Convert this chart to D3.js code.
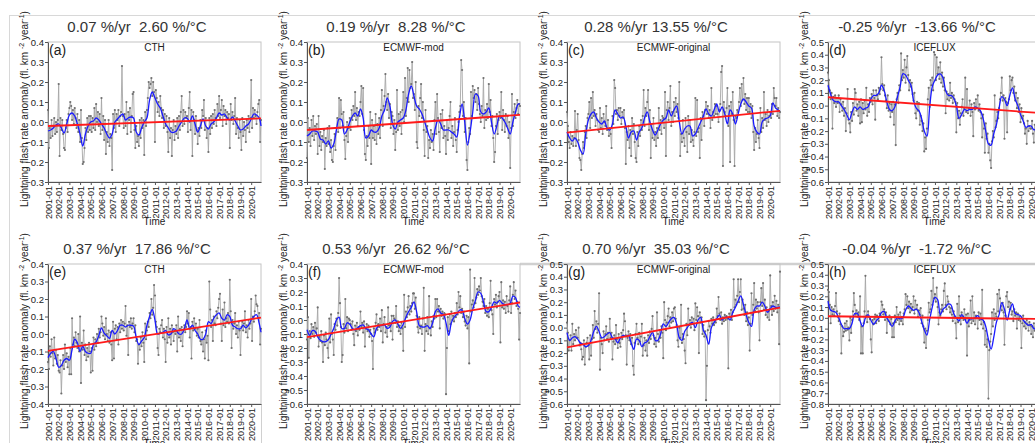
<!DOCTYPE html>
<html>
<head>
<meta charset="utf-8">
<script src="https://cdn.jsdelivr.net/npm/d3@7"></script>
<style>
body{margin:0;background:#fff;}
svg{display:block;font-family:"Liberation Sans",Arial,sans-serif;}
</style>
</head>
<body>
<svg id="fig" width="1035" height="443"></svg>
<script>
// monthly anomalies, 2001-01 .. 2020-12, one row per year
var seriesA = [
 0.06,-0.13,-0.03,-0.08,0.01,-0.07,-0.02,0.02,-0.06,0.00,-0.05,0.01,
 0.19,-0.17,0.02,-0.04,0.01,-0.06,-0.13,-0.14,-0.03,0.01,-0.05,0.04,
 0.07,0.10,0.08,0.01,0.06,-0.01,0.07,0.02,-0.03,0.04,-0.05,0.01,
 -0.10,0.06,-0.08,-0.21,-0.20,-0.13,-0.03,-0.09,0.02,-0.05,0.03,-0.04,
 0.03,-0.05,0.02,-0.03,0.07,-0.04,0.09,0.00,0.05,-0.02,0.04,-0.06,
 0.12,-0.04,0.03,-0.09,0.01,-0.16,-0.05,-0.10,0.01,-0.12,-0.06,-0.08,
 -0.24,0.04,-0.03,0.06,-0.05,0.04,0.01,0.06,-0.02,0.03,0.05,0.28,
 0.03,-0.03,0.04,-0.02,0.10,-0.06,0.05,0.01,0.07,-0.05,0.03,0.14,
 0.15,-0.04,-0.13,-0.02,-0.10,-0.07,-0.12,0.01,-0.08,0.02,-0.03,0.01,
 -0.165,0.05,-0.02,0.06,0.12,0.20,0.17,0.19,0.22,0.13,0.20,0.15,
 -0.10,0.16,0.12,0.05,0.10,0.03,0.13,0.07,0.02,0.06,-0.03,0.04,
 -0.02,0.03,-0.05,-0.15,0.02,-0.08,-0.03,-0.17,-0.04,0.01,-0.09,-0.02,
 -0.06,0.02,-0.08,0.03,-0.04,0.05,0.13,-0.02,0.06,-0.01,0.05,0.02,
 0.03,-0.05,0.07,0.15,-0.04,0.06,-0.17,0.05,0.01,-0.06,0.03,-0.04,
 -0.11,-0.03,-0.07,0.01,-0.03,0.06,0.03,0.11,-0.04,0.02,-0.08,-0.03,
 -0.15,0.02,-0.06,0.03,-0.03,0.04,-0.01,0.06,0.02,-0.02,0.09,0.03,
 0.13,0.02,0.06,0.11,-0.02,0.08,0.03,0.06,-0.01,0.05,0.02,0.04,
 -0.13,0.09,0.01,0.05,-0.01,0.03,0.12,-0.06,0.02,-0.03,-0.08,0.01,
 -0.05,-0.14,0.02,-0.07,0.00,-0.04,-0.10,0.01,-0.03,0.03,-0.05,0.02,
 0.21,-0.03,0.07,0.02,0.06,0.03,-0.01,0.05,0.09,0.11,-0.10,0.01
]
var seriesB = [
 -0.18,0.02,-0.10,-0.03,-0.12,0.01,-0.07,0.03,-0.09,-0.02,-0.06,-0.01,
 -0.16,0.03,-0.12,-0.05,-0.14,-0.07,-0.10,-0.04,-0.235,-0.08,-0.12,-0.03,
 -0.11,-0.02,-0.15,-0.09,-0.19,-0.20,-0.12,-0.06,-0.14,-0.03,0.02,-0.05,
 0.12,-0.03,0.11,0.04,-0.02,0.05,-0.09,-0.185,-0.07,0.00,-0.10,-0.03,
 0.02,-0.04,0.06,0.01,0.08,0.03,0.15,0.01,0.07,-0.02,0.05,0.03,
 0.10,0.18,0.04,0.17,-0.04,-0.16,-0.19,-0.07,-0.12,-0.02,-0.08,0.05,
 -0.21,0.01,-0.08,-0.02,-0.09,0.04,-0.11,-0.01,-0.06,0.02,-0.08,0.06,
 0.16,-0.02,0.08,0.13,0.24,0.10,0.06,0.14,0.02,0.09,-0.03,0.05,
 0.03,-0.06,0.01,-0.14,-0.05,0.16,-0.04,0.04,-0.02,0.05,-0.06,0.06,
 0.15,0.00,0.22,0.03,0.12,0.27,0.10,0.26,0.17,0.19,0.30,0.12,
 0.14,0.06,0.20,-0.10,-0.13,0.08,0.03,0.12,0.19,0.02,0.10,-0.04,
 -0.17,0.06,-0.05,-0.02,-0.18,-0.09,-0.13,-0.04,-0.10,-0.06,-0.14,0.01,
 0.10,-0.06,0.14,0.02,-0.05,-0.15,0.04,-0.03,0.06,-0.08,-0.02,-0.07,
 -0.16,0.01,-0.09,-0.03,0.03,0.10,-0.08,-0.02,-0.12,-0.05,0.02,-0.09,
 -0.15,-0.04,0.00,0.05,0.08,0.31,0.26,0.03,0.10,-0.05,0.02,-0.19,
 -0.24,-0.10,-0.03,-0.06,0.15,0.03,0.18,0.12,0.16,0.10,0.14,0.06,
 0.17,0.09,0.04,0.00,0.08,0.03,0.22,-0.03,0.06,0.01,0.09,0.02,
 0.19,0.05,0.11,-0.02,0.03,-0.08,-0.20,-0.15,-0.02,0.04,-0.06,0.01,
 0.05,0.02,0.15,-0.04,0.06,0.01,-0.05,0.04,-0.02,0.03,-0.08,0.00,
 -0.23,-0.03,0.14,-0.02,0.05,0.09,0.02,0.07,0.11,0.04,0.09,0.08
]
var seriesC = [
 0.05,-0.02,-0.10,-0.13,-0.05,-0.11,-0.07,-0.12,-0.08,0.055,-0.12,-0.04,
 0.04,-0.09,-0.18,-0.19,-0.24,-0.16,-0.10,-0.13,-0.05,-0.02,-0.08,0.02,
 0.04,0.10,-0.03,0.12,0.02,0.15,0.03,0.06,-0.02,0.04,0.01,-0.04,
 -0.05,0.07,-0.03,0.02,-0.06,0.04,0.00,-0.02,0.08,-0.04,0.01,-0.07,
 -0.03,-0.06,-0.13,0.03,-0.01,0.21,0.17,0.04,0.06,0.01,0.07,0.03,
 0.07,-0.01,0.05,0.02,0.06,-0.03,-0.21,-0.05,-0.09,-0.02,-0.13,-0.04,
 -0.17,0.02,-0.06,-0.01,-0.10,-0.18,-0.20,-0.05,-0.12,-0.02,-0.07,0.01,
 -0.04,0.03,0.16,-0.02,0.07,0.03,0.10,0.16,-0.04,0.06,-0.18,-0.01,
 -0.08,0.02,-0.09,-0.05,-0.12,-0.03,-0.08,0.07,-0.04,0.01,-0.06,0.03,
 0.02,-0.03,0.15,-0.17,0.06,0.10,0.01,0.07,0.18,-0.02,0.05,0.00,
 0.10,0.03,0.12,0.05,0.09,0.02,0.20,-0.17,-0.06,-0.10,0.01,-0.08,
 -0.12,0.02,-0.05,-0.15,0.03,-0.06,0.01,-0.10,-0.04,-0.09,-0.12,-0.05,
 0.12,-0.07,0.11,-0.05,-0.03,-0.18,0.02,-0.09,0.05,0.03,-0.02,0.06,
 0.10,0.04,0.08,0.02,0.06,-0.03,0.17,0.01,0.05,0.03,0.09,0.04,
 0.08,0.04,0.00,0.06,0.09,0.25,0.28,-0.22,0.10,0.05,0.03,0.07,
 0.17,-0.02,0.08,-0.20,0.10,0.04,0.15,0.01,-0.22,0.03,0.02,0.06,
 0.05,0.10,0.17,0.08,0.19,0.11,0.22,0.09,0.14,0.06,0.12,0.05,
 0.12,0.05,0.09,0.02,0.08,-0.05,-0.14,-0.03,-0.10,-0.06,0.01,-0.08,
 -0.13,0.07,-0.05,0.02,-0.03,0.15,0.01,0.04,-0.02,0.06,0.00,0.03,
 0.05,0.02,0.09,0.04,0.17,0.12,0.08,0.12,0.03,0.07,0.02,0.05
]
var seriesD = [
 0.26,0.20,0.12,0.05,0.10,-0.18,0.07,0.02,0.08,-0.01,0.06,0.02,
 0.08,-0.05,0.05,0.01,-0.04,0.03,-0.08,-0.02,-0.20,-0.06,0.13,-0.11,
 -0.14,-0.21,-0.05,-0.12,0.02,-0.07,0.13,0.10,-0.04,0.01,-0.08,0.03,
 -0.14,0.05,-0.13,0.02,-0.06,0.04,-0.03,0.14,-0.08,0.01,-0.05,0.06,
 0.03,0.09,0.01,0.12,0.06,-0.11,0.12,0.08,0.05,0.14,0.09,0.13,
 0.38,0.17,0.12,0.16,0.08,0.04,-0.02,0.08,-0.04,0.02,-0.09,0.01,
 -0.05,0.03,-0.15,0.01,-0.31,0.05,0.10,0.02,0.16,0.12,0.41,0.20,
 0.28,0.22,0.36,0.18,0.30,0.39,0.24,0.12,0.20,0.15,0.18,0.09,
 0.04,0.10,-0.06,-0.10,0.03,-0.04,0.02,-0.15,-0.08,-0.12,-0.20,-0.14,
 -0.36,-0.25,-0.34,-0.18,0.05,0.14,-0.01,0.20,0.16,0.22,0.12,0.42,
 0.40,0.20,0.38,0.25,0.30,0.21,0.34,0.18,0.26,0.15,0.22,0.12,
 -0.06,0.11,0.05,0.09,0.04,0.18,0.06,0.10,0.02,0.08,0.05,0.03,
 -0.21,0.02,-0.10,-0.04,-0.15,-0.06,-0.01,0.05,-0.08,-0.02,0.22,-0.05,
 0.13,-0.06,-0.02,0.04,-0.08,0.01,-0.05,-0.24,0.02,-0.03,0.05,-0.02,
 0.08,-0.04,0.01,-0.05,-0.10,-0.25,-0.07,-0.18,-0.37,-0.14,-0.26,-0.22,
 -0.37,-0.30,-0.43,-0.49,-0.28,-0.20,-0.25,0.08,-0.17,-0.12,-0.05,-0.10,
 -0.02,0.05,0.10,0.22,0.04,0.08,-0.26,0.06,0.03,-0.21,0.02,0.05,
 0.23,0.12,0.20,0.22,0.10,0.15,0.04,0.10,-0.02,0.06,-0.05,0.01,
 -0.13,-0.02,-0.10,-0.08,-0.14,-0.22,-0.18,-0.30,-0.12,-0.20,-0.16,-0.18,
 -0.18,-0.12,-0.22,-0.29,-0.15,-0.20,-0.13,-0.24,-0.17,-0.21,-0.12,-0.19
]
var seriesE = [
 -0.16,-0.20,-0.07,-0.13,-0.03,-0.11,-0.18,-0.02,-0.14,-0.09,-0.17,-0.12,
 -0.21,-0.22,-0.15,-0.34,-0.18,-0.12,-0.20,-0.06,-0.16,-0.11,-0.19,-0.13,
 -0.23,-0.08,-0.23,0.09,-0.06,-0.02,-0.07,0.01,-0.05,-0.08,0.00,-0.10,
 0.10,-0.28,-0.05,-0.09,0.02,-0.12,-0.06,-0.15,-0.08,-0.13,-0.05,-0.10,
 -0.22,-0.08,-0.21,-0.02,-0.09,-0.03,-0.07,0.00,-0.05,0.03,-0.02,0.01,
 0.10,0.06,-0.01,0.04,-0.03,0.09,0.00,-0.04,0.02,-0.05,0.01,-0.06,
 -0.15,0.07,-0.14,0.03,0.05,-0.03,0.04,-0.06,0.06,0.01,0.08,0.03,
 0.07,0.02,0.06,0.16,-0.01,0.05,-0.12,0.07,0.04,0.09,0.03,0.06,
 0.09,0.01,0.05,-0.04,-0.03,-0.17,-0.06,-0.09,-0.02,-0.07,0.01,-0.05,
 -0.16,0.06,-0.03,0.02,0.07,0.04,0.12,0.09,0.20,0.11,0.15,0.28,
 0.22,0.07,0.04,-0.08,-0.12,0.03,0.01,0.05,0.08,-0.02,0.03,-0.03,
 -0.16,0.04,-0.05,0.09,-0.02,0.03,-0.06,0.05,0.01,-0.04,0.02,0.00,
 0.05,-0.10,0.10,-0.02,0.03,-0.04,0.04,-0.07,0.02,0.05,0.01,0.04,
 0.13,0.06,0.12,-0.02,0.04,-0.14,0.07,0.02,0.09,0.03,0.06,-0.01,
 0.03,-0.02,0.08,-0.04,-0.06,0.01,-0.10,-0.03,-0.14,0.02,-0.05,-0.01,
 -0.15,0.30,0.14,0.04,0.08,-0.04,0.10,0.06,0.05,0.13,0.09,0.15,
 0.20,0.23,0.06,-0.04,0.14,0.05,0.18,0.04,0.09,0.07,0.12,0.06,
 0.31,0.13,-0.08,0.08,0.03,0.06,0.12,0.00,0.05,-0.02,0.07,0.02,
 -0.12,0.04,0.07,0.02,0.06,0.13,0.01,0.05,-0.02,0.08,0.03,0.06,
 0.20,-0.04,0.10,0.07,0.13,0.22,0.17,0.16,0.09,0.12,-0.06,0.03
]
var seriesF = [
 -0.14,0.02,-0.27,-0.08,-0.13,-0.03,-0.10,-0.05,-0.12,-0.02,-0.09,-0.06,
 0.09,-0.19,-0.12,-0.15,-0.08,-0.16,-0.30,-0.11,-0.18,-0.09,-0.14,-0.20,
 -0.27,0.01,-0.16,0.04,-0.10,-0.14,-0.25,-0.03,-0.07,0.01,-0.04,0.05,
 0.30,0.12,-0.05,-0.30,-0.25,-0.03,-0.09,0.15,-0.06,0.02,-0.08,0.01,
 0.00,-0.03,-0.07,-0.01,-0.10,-0.18,-0.04,-0.08,-0.02,-0.11,-0.05,-0.07,
 0.06,-0.05,-0.02,-0.09,-0.01,-0.19,-0.06,-0.03,-0.08,-0.04,-0.12,-0.07,
 -0.10,-0.15,-0.35,-0.06,-0.09,-0.02,0.04,-0.07,-0.03,-0.05,0.01,-0.08,
 0.07,-0.16,-0.03,0.02,-0.09,-0.05,-0.12,0.09,-0.04,-0.02,-0.08,0.03,
 -0.14,0.03,0.01,-0.02,0.10,-0.05,-0.01,-0.08,-0.04,-0.10,-0.02,-0.06,
 -0.22,0.18,-0.05,0.06,0.02,0.09,0.17,0.04,0.10,0.06,0.12,0.19,
 0.19,0.08,0.16,0.03,-0.05,-0.09,0.02,-0.06,-0.04,-0.10,0.01,0.23,
 -0.22,-0.03,-0.08,0.02,-0.10,0.17,-0.06,-0.11,-0.01,-0.05,0.03,0.01,
 0.15,0.02,0.15,0.06,0.10,-0.06,0.08,0.03,0.06,0.01,0.05,0.04,
 -0.53,-0.20,0.02,-0.08,0.04,-0.03,0.06,0.00,0.03,-0.01,0.05,0.02,
 0.12,0.04,0.20,0.09,0.17,0.05,0.08,0.02,0.06,-0.01,-0.04,0.03,
 -0.06,0.02,-0.31,0.36,0.06,0.11,0.14,0.09,0.30,0.12,0.16,0.22,
 0.18,0.24,0.21,0.30,0.17,0.13,0.10,0.15,0.05,0.10,0.03,0.08,
 0.02,0.12,0.28,0.07,0.04,-0.10,0.15,0.11,0.18,0.09,0.13,0.17,
 0.20,-0.16,0.27,0.09,0.14,0.08,0.13,0.05,0.17,0.10,0.06,0.14,
 0.24,0.05,0.12,0.18,0.27,0.15,0.21,0.10,0.13,0.08,-0.14,0.05
]
var seriesG = [
 0.04,-0.04,-0.18,-0.10,-0.06,-0.18,0.03,-0.13,-0.05,-0.10,-0.02,-0.08,
 -0.08,0.00,-0.14,-0.12,-0.17,-0.25,-0.23,-0.10,-0.29,-0.15,-0.12,-0.08,
 -0.14,-0.25,-0.06,-0.22,-0.09,0.02,-0.08,0.13,-0.01,0.05,-0.04,0.03,
 0.27,-0.33,-0.08,-0.13,-0.20,-0.03,-0.10,-0.05,0.01,-0.09,-0.04,-0.11,
 0.07,-0.08,-0.04,-0.25,-0.11,-0.06,-0.13,0.02,-0.09,-0.16,-0.05,-0.12,
 -0.15,-0.04,-0.09,-0.02,0.11,0.05,-0.06,-0.29,-0.08,-0.03,-0.10,-0.05,
 -0.13,-0.08,-0.30,-0.37,-0.12,-0.05,0.03,-0.08,-0.13,-0.04,-0.11,-0.07,
 0.03,-0.22,-0.14,-0.08,-0.18,-0.10,-0.22,-0.06,-0.12,-0.03,-0.09,-0.01,
 0.09,-0.06,-0.13,-0.08,-0.15,0.12,-0.05,-0.11,-0.02,-0.08,0.01,-0.04,
 -0.24,0.20,0.06,-0.02,0.04,0.09,0.15,0.01,0.08,0.04,0.12,0.05,
 0.15,0.16,0.07,0.02,-0.10,-0.15,0.00,-0.08,0.18,-0.12,-0.05,-0.09,
 -0.18,-0.28,0.03,-0.06,0.15,0.02,0.06,0.00,0.08,0.03,0.07,-0.02,
 0.19,0.06,0.16,0.09,-0.20,0.12,0.04,0.08,-0.05,0.02,-0.07,-0.03,
 -0.57,-0.30,-0.02,0.05,0.01,-0.04,0.07,0.03,0.08,0.02,0.06,0.04,
 0.15,0.09,0.24,0.11,0.06,0.12,0.03,0.08,0.05,0.10,0.06,0.09,
 0.07,-0.32,0.11,0.08,0.14,0.06,0.12,0.38,0.16,0.22,0.18,0.25,
 0.38,0.20,0.28,0.38,0.14,0.22,0.15,0.10,0.18,0.05,0.12,0.02,
 0.08,-0.18,0.03,0.27,0.10,0.18,0.35,0.13,0.22,0.15,0.20,0.12,
 -0.10,0.20,0.31,0.17,0.35,0.14,0.22,0.10,0.16,0.08,0.13,0.06,
 0.41,0.17,0.10,0.20,0.13,0.25,0.15,0.21,0.12,0.18,-0.13,0.44
]
var seriesH = [
 0.26,0.24,0.12,-0.05,0.10,0.03,0.08,0.02,0.11,0.23,0.06,0.01,
 -0.03,0.04,-0.06,-0.33,-0.08,-0.17,-0.13,-0.05,-0.12,-0.03,-0.11,-0.09,
 -0.21,0.00,-0.14,-0.02,0.06,0.23,0.12,0.03,0.07,0.01,0.05,-0.02,
 0.20,-0.33,-0.08,-0.33,-0.05,0.06,0.39,0.02,-0.04,0.06,0.01,-0.01,
 -0.20,-0.32,-0.02,-0.06,-0.01,0.03,-0.05,0.02,0.01,-0.03,0.04,0.02,
 0.15,0.12,0.03,0.08,-0.02,0.05,-0.14,0.01,-0.03,0.02,-0.06,-0.01,
 -0.18,-0.05,-0.18,0.02,-0.04,0.10,-0.02,0.03,-0.06,0.05,-0.03,0.01,
 -0.06,0.04,0.08,0.22,0.12,0.20,0.09,0.15,0.05,0.13,0.07,0.10,
 0.20,0.04,0.16,0.08,0.12,0.01,0.07,0.03,0.09,-0.05,0.02,-0.08,
 -0.23,-0.10,-0.28,-0.12,-0.02,0.14,0.05,0.08,0.25,0.12,0.37,0.18,
 0.22,0.15,0.28,0.10,-0.06,0.05,0.02,0.08,0.12,0.06,0.25,0.32,
 0.12,0.08,0.20,0.15,0.10,0.05,0.09,0.03,-0.03,0.06,0.01,-0.05,
 -0.19,0.13,-0.04,0.20,0.02,-0.06,0.05,0.01,-0.02,0.08,-0.01,0.03,
 -0.35,0.04,-0.08,-0.02,0.16,-0.05,0.20,-0.03,0.05,-0.06,0.02,0.00,
 -0.10,0.05,-0.02,0.04,-0.06,0.26,-0.10,-0.04,-0.25,-0.12,-0.27,-0.20,
 -0.75,-0.30,-0.22,-0.15,0.05,-0.08,0.08,-0.02,0.04,0.01,0.22,0.06,
 0.26,0.18,0.11,0.07,0.14,0.05,-0.25,0.02,0.20,0.24,0.10,0.15,
 0.08,0.14,0.03,0.06,-0.03,0.08,0.02,0.05,-0.10,0.04,-0.02,0.01,
 -0.03,-0.28,-0.05,0.02,-0.08,-0.04,-0.10,-0.02,-0.06,-0.12,-0.04,-0.07,
 -0.15,-0.08,-0.18,-0.05,-0.12,-0.09,-0.14,-0.06,-0.11,-0.08,-0.13,-0.07
]

// smoothed curve, every 3 months from 2001-01 (last value = series end)
var smoothA = [-0.045,-0.04,-0.03,-0.015, -0.01,-0.03,-0.055,-0.01, 0.035,0.045,0.03,-0.01, -0.06,-0.12,-0.06,-0.02,
 0.0,0.005,0.02,0.01, -0.01,-0.03,-0.06,-0.08, -0.06,0.0,0.015,0.03, 0.04,0.01,0.02,0.025, 0.02,-0.05,-0.065,-0.03,
 0.0,0.02,0.11,0.15, 0.12,0.09,0.07,0.03, -0.01,-0.03,-0.05,-0.052, -0.045,-0.02,0.0,0.02, 0.02,0.0,0.03,-0.01,
 -0.05,-0.02,0.015,-0.02, -0.035,-0.01,0.0,0.02, 0.045,0.035,0.04,0.02, 0.01,0.025,0.005,-0.02, -0.04,-0.035,-0.02,-0.01,
 0.015,0.04,0.035,0.02, -0.02]
var smoothB = [-0.07,-0.06,-0.045,-0.045, -0.05,-0.085,-0.09,-0.11, -0.095,-0.13,-0.11,-0.04, 0.015,0.01,-0.06,-0.04,
 0.0,0.03,0.045,0.03, 0.065,0.02,-0.08,-0.07, -0.04,-0.05,-0.05,-0.03, 0.03,0.06,0.12,0.08, -0.01,-0.035,0.0,0.01,
 0.02,0.06,0.14,0.18, 0.13,0.08,0.065,0.04, 0.0,-0.04,-0.08,-0.095, -0.03,0.01,-0.01,-0.04, -0.04,-0.04,-0.05,-0.06,
 -0.075,0.02,0.09,0.0, -0.115,-0.05,0.05,0.14, 0.13,0.05,0.04,0.05, 0.07,0.0,-0.06,-0.02, 0.03,0.02,0.0,-0.03,
 -0.06,0.0,0.05,0.09, 0.09]
var smoothC = [-0.05,-0.08,-0.095,-0.08, -0.1,-0.14,-0.16,-0.06, 0.01,0.04,0.05,0.02, 0.0,-0.01,0.005,-0.03,
 -0.04,-0.01,0.06,0.04, 0.02,0.025,-0.02,-0.08, -0.05,-0.045,-0.09,-0.05, -0.03,0.02,0.05,0.0, -0.04,-0.065,-0.04,-0.01,
 0.01,0.02,0.06,0.03, 0.06,0.08,0.0,-0.06, -0.035,-0.02,-0.02,-0.07, -0.06,-0.03,0.0,0.03, 0.065,0.04,0.03,0.06,
 0.09,0.05,0.075,0.04, -0.01,0.06,0.04,-0.01, 0.04,0.09,0.115,0.1, 0.08,0.07,-0.02,-0.05, -0.06,0.0,0.015,0.02,
 0.03,0.095,0.07,0.06, 0.055]
var smoothD = [0.16,0.09,0.04,0.03, 0.03,0.0,-0.03,-0.07, -0.11,-0.05,-0.01,-0.03, -0.01,-0.03,-0.02,-0.01,
 0.05,0.08,0.08,0.1, 0.16,0.12,0.03,-0.03, -0.04,-0.01,0.07,0.15, 0.25,0.24,0.2,0.16, 0.04,-0.02,-0.04,-0.1,
 -0.2,-0.24,-0.02,0.15, 0.2,0.24,0.25,0.22, 0.12,0.08,0.08,0.06, 0.0,-0.1,-0.07,-0.03, -0.04,-0.03,-0.03,-0.01,
 -0.02,-0.04,-0.1,-0.2, -0.3,-0.31,-0.22,-0.15, -0.02,0.07,0.05,0.0, 0.08,0.14,0.05,0.0, -0.07,-0.12,-0.17,-0.16,
 -0.16,-0.19,-0.18,-0.17, -0.17]
var smoothE = [-0.135,-0.11,-0.1,-0.14, -0.19,-0.18,-0.15,-0.14, -0.15,-0.09,-0.03,-0.05, -0.1,-0.07,-0.1,-0.11,
 -0.11,-0.06,-0.045,-0.01, 0.035,0.005,-0.01,-0.025, 0.02,0.0,0.02,0.05, 0.05,0.04,0.05,0.05, 0.045,-0.02,-0.06,-0.04,
 -0.02,0.05,0.1,0.14, 0.08,0.0,0.005,0.01, 0.02,-0.005,0.0,0.03, 0.02,0.0,0.0,0.03, 0.08,0.03,0.05,0.02,
 0.0,-0.03,-0.03,0.0, 0.07,0.06,0.09,0.11, 0.12,0.09,0.08,0.11, 0.1,0.05,0.04,0.03, 0.03,0.05,0.035,0.05,
 0.08,0.1,0.11,0.06, 0.01]
var smoothF = [-0.07,-0.11,-0.075,-0.08, -0.12,-0.145,-0.155,-0.155, -0.14,-0.1,-0.06,0.0, 0.02,-0.06,-0.06,-0.02,
 -0.03,-0.06,-0.07,-0.055, -0.04,-0.035,-0.06,-0.07, -0.1,-0.12,-0.06,-0.04, -0.04,-0.035,-0.06,-0.05, -0.01,0.0,-0.03,-0.06,
 -0.03,0.02,0.06,0.09, 0.13,0.06,-0.04,-0.05, -0.05,-0.04,-0.06,-0.02, 0.06,0.08,0.05,0.04, -0.02,-0.11,-0.02,0.02,
 0.04,0.07,0.07,0.01, -0.03,0.0,0.08,0.14, 0.2,0.19,0.13,0.06, 0.06,0.09,0.13,0.12, 0.14,0.12,0.11,0.11,
 0.12,0.17,0.16,0.1, 0.09]
var smoothG = [-0.04,-0.1,-0.08,-0.07, -0.09,-0.12,-0.13,-0.15, -0.14,-0.1,-0.03,0.01, -0.03,-0.08,-0.07,-0.05,
 -0.04,-0.08,-0.09,-0.12, -0.08,-0.06,-0.07,-0.06, -0.12,-0.17,-0.09,-0.1, -0.15,-0.12,-0.11,-0.07, -0.04,-0.1,-0.1,-0.05,
 0.03,0.01,0.04,0.07, 0.08,0.03,-0.08,-0.1, -0.03,0.0,0.03,0.04, 0.0,0.06,0.08,-0.02, -0.06,-0.13,0.0,0.04,
 0.07,0.1,0.06,0.08, 0.08,0.06,0.12,0.16, 0.21,0.25,0.18,0.1, 0.04,0.01,0.14,0.17, 0.17,0.2,0.17,0.12,
 0.15,0.17,0.16,0.16, 0.16]
var smoothH = [0.155,0.07,0.06,0.05, 0.0,-0.06,-0.1,-0.1, -0.1,-0.05,0.04,0.04, -0.03,-0.08,0.0,0.03,
 -0.02,-0.06,-0.03,0.0, 0.05,0.06,0.0,-0.04, -0.08,-0.03,0.0,-0.01, 0.0,0.07,0.11,0.09, 0.07,0.08,0.05,-0.03,
 -0.11,-0.16,-0.02,0.1, 0.19,0.17,0.03,0.08, 0.1,0.13,0.12,0.04, 0.0,-0.03,0.03,0.0, -0.05,-0.01,-0.01,0.0,
 0.02,-0.01,-0.02,-0.08, -0.2,-0.29,-0.18,-0.04, 0.03,0.14,0.08,-0.02, 0.07,0.13,0.04,0.03, 0.02,-0.02,-0.05,-0.07,
 -0.06,-0.1,-0.1,-0.08, -0.08]

// linear trend, value at 2001-01 and at 2020-12
var trendA = [-0.02, 0.018]
var trendB = [-0.04, 0.036]
var trendC = [-0.053, 0.056]
var trendD = [0.066, -0.059]
var trendE = [-0.096, 0.094]
var trendF = [-0.122, 0.125]
var trendG = [-0.155, 0.158]
var trendH = [0.015, -0.011]

var titles = ['0.07 %/yr  2.60 %/°C', '0.19 %/yr  8.28 %/°C', '0.28 %/yr 13.55 %/°C', '-0.25 %/yr  -13.66 %/°C',
              '0.37 %/yr  17.86 %/°C', '0.53 %/yr  26.62 %/°C', '0.70 %/yr  35.03 %/°C', '-0.04 %/yr  -1.72 %/°C']
var letters = ['(a)','(b)','(c)','(d)','(e)','(f)','(g)','(h)']
var names = ['CTH','ECMWF-mod','ECMWF-original','ICEFLUX','CTH','ECMWF-mod','ECMWF-original','ICEFLUX']
var yRanges = [[-0.3,0.4],[-0.3,0.4],[-0.3,0.4],[-0.6,0.5],[-0.4,0.4],[-0.6,0.4],[-0.6,0.5],[-0.8,0.5]]
var tickLabels = ['2001-01','2002-01','2003-01','2004-01','2005-01','2006-01','2007-01','2008-01','2009-01','2010-01',
                  '2011-01','2012-01','2013-01','2014-01','2015-01','2016-01','2017-01','2018-01','2019-01','2020-01']

var series = [seriesA,seriesB,seriesC,seriesD,seriesE,seriesF,seriesG,seriesH]
var smooth = [smoothA,smoothB,smoothC,smoothD,smoothE,smoothF,smoothG,smoothH]
var trends = [trendA,trendB,trendC,trendD,trendE,trendF,trendG,trendH]

var svg = d3.select('#fig')
var colX = [48, 307, 567, 828]
var rowY = [42, 264]
var pw = 213, ph = 140
var font = '"Liberation Sans",Arial,sans-serif'

// frame lines of the pasted figure
svg.append('line').attr('x1',9).attr('x2',1035).attr('y1',15.5).attr('y2',15.5).attr('stroke','#d8d8d8')
svg.append('line').attr('x1',9.5).attr('x2',9.5).attr('y1',15).attr('y2',443).attr('stroke','#d8d8d8')
svg.append('line').attr('x1',520).attr('x2',1035).attr('y1',264).attr('y2',264).attr('stroke','#d0d0d0').attr('stroke-width',2.5)
svg.append('line').attr('x1',261.5).attr('x2',261.5).attr('y1',404).attr('y2',443).attr('stroke','#d0d0d0')

function drawPanel(i) {
    var left = colX[i % 4], top = rowY[Math.floor(i / 4)]
    var lo = yRanges[i][0], hi = yRanges[i][1]
    var x = d3.scaleLinear().domain([0, 239]).range([left, left + pw])
    var y = d3.scaleLinear().domain([lo, hi]).range([top + ph, top])
    var g = svg.append('g')

    g.append('rect').attr('x',left).attr('y',top).attr('width',pw).attr('height',ph)
        .attr('fill','none').attr('stroke','#c4c4c4')

    var yTicks = d3.range(Math.round(lo * 10), Math.round(hi * 10) + 1).map(function(k){ return k / 10 })
    var ya = g.append('g').attr('transform','translate(' + left + ',0)')
        .call(d3.axisLeft(y).tickValues(yTicks).tickSize(3).tickSizeOuter(0).tickPadding(1).tickFormat(d3.format('.1f')))
    ya.selectAll('text').style('font-size','9.5px').style('font-family',font).attr('fill','#222')
    ya.selectAll('path,line').attr('stroke','#555')

    var xa = g.append('g').attr('transform','translate(0,' + (top + ph) + ')')
        .call(d3.axisBottom(x).tickValues(d3.range(0, 240, 12)).tickSize(3).tickSizeOuter(0)
            .tickFormat(function(d, k){ return tickLabels[k] }))
    xa.selectAll('path,line').attr('stroke','#555')
    xa.selectAll('text').style('font-size','9px').style('font-family',font).attr('fill','#222')
        .attr('transform','rotate(-90)').attr('text-anchor','end').attr('x',-4).attr('y',0).attr('dy','0.35em')

    // monthly series
    var line = d3.line().x(function(d, k){ return x(k) }).y(function(d){ return y(d) })
    g.append('path').datum(series[i]).attr('d', line).attr('fill','none').attr('stroke','#a6a6a6').attr('stroke-width',0.9)
    g.selectAll('circle.pt').data(series[i]).enter().append('circle').attr('class','pt')
        .attr('cx', function(d, k){ return x(k) }).attr('cy', function(d){ return y(d) })
        .attr('r', 1.1).attr('fill','#6e6e6e')

    // smoothed curve
    var sline = d3.line().curve(d3.curveCatmullRom)
        .x(function(d, k){ return x(Math.min(k * 3, 239)) }).y(function(d){ return y(d) })
    g.append('path').datum(smooth[i]).attr('d', sline).attr('fill','none').attr('stroke','#1a1aff').attr('stroke-width',1.3)

    // trend
    g.append('line').attr('x1', x(0)).attr('y1', y(trends[i][0])).attr('x2', x(239)).attr('y2', y(trends[i][1]))
        .attr('stroke','#ff1a1a').attr('stroke-width',1.8)

    // texts
    g.append('text').attr('x', left + 89).attr('y', top - 10.5).attr('text-anchor','middle')
        .style('font-size','15px').style('white-space','pre').attr('fill','#333').text(titles[i])
    g.append('text').attr('x', left + 1).attr('y', top + 12.5).style('font-size','14px').attr('fill','#222').text(letters[i])
    g.append('text').attr('x', left + pw / 2).attr('y', top + 8.5).attr('text-anchor','middle')
        .style('font-size','10px').attr('fill','#222').text(names[i])

    var lab = g.append('text').attr('transform','translate(' + (left - 20) + ',' + (top + 67) + ') rotate(-90)')
        .attr('text-anchor','middle').style('font-size','10px').attr('fill','#222')
    lab.append('tspan').text('Lightning flash rate anomaly (fl. km ')
    lab.append('tspan').attr('dy',-4).style('font-size','7px').text('-2')
    lab.append('tspan').attr('dy',4).text(' year')
    lab.append('tspan').attr('dy',-4).style('font-size','7px').text('-1')
    lab.append('tspan').attr('dy',4).text(')')

    g.append('text').attr('x', left + pw / 2).attr('y', top + 183).attr('text-anchor','middle')
        .style('font-size','10px').attr('fill','#222').text('Time')
}

for (var i = 0; i < 8; i++) drawPanel(i)
</script>
</body>
</html>
